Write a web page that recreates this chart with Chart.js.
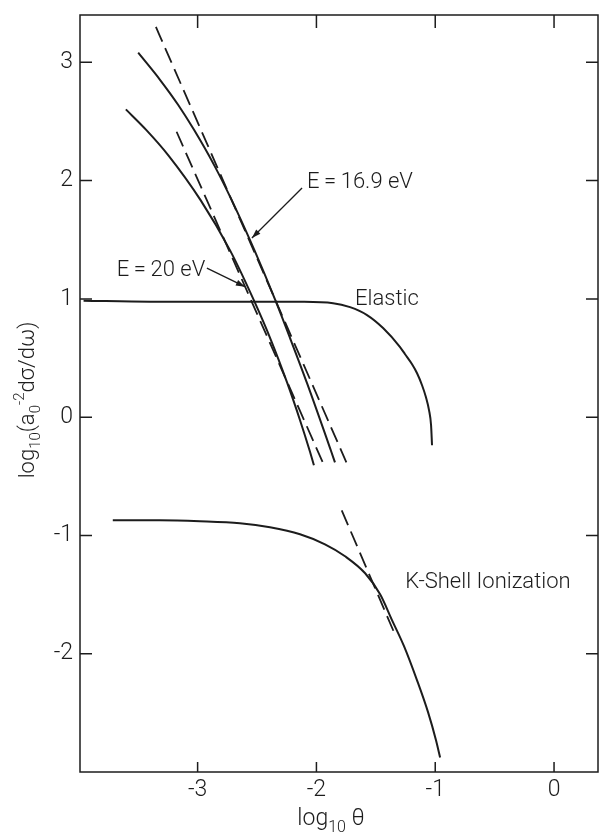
<!DOCTYPE html>
<html>
<head>
<meta charset="utf-8">
<script src="https://cdn.jsdelivr.net/npm/chart.js@4.4.1/dist/chart.umd.min.js"></script>
<style>
  html, body { margin: 0; padding: 0; background: #ffffff; }
  #wrap { width: 599px; height: 838px; }
</style>
</head>
<body>
<div id="wrap"><canvas id="chart" width="599" height="838"></canvas></div>
<script>
// Differential cross sections vs. scattering angle (log10 scales)

// Elastic scattering
const elasticX = [-3.96, -3.40, -2.90, -2.40, -2.14, -1.86, -1.717, -1.574, -1.439, -1.296, -1.254, -1.195, -1.153, -1.111, -1.078, -1.052, -1.035, -1.027];
const elasticY = [0.985, 0.976, 0.976, 0.976, 0.975, 0.964, 0.930, 0.863, 0.753, 0.592, 0.532, 0.447, 0.371, 0.270, 0.168, 0.058, -0.069, -0.238];

// K-shell ionization
const kshellX = [-3.714, -3.318, -2.981, -2.644, -2.391, -2.138, -1.928, -1.759, -1.590, -1.464, -1.363, -1.262, -1.153, -1.060, -0.993, -0.959];
const kshellY = [-0.872, -0.872, -0.880, -0.897, -0.931, -0.990, -1.075, -1.176, -1.320, -1.498, -1.718, -1.938, -2.225, -2.496, -2.733, -2.877];
// asymptote of the K-shell curve
const kshellAsymX = [-1.787, -1.339];
const kshellAsymY = [-0.788, -1.837];

// E = 16.9 eV
const e169X = [-3.500, -3.315, -3.163, -3.029, -2.861, -2.713, -2.522, -2.346, -2.215, -2.079, -1.879, -1.844];
const e169Y = [3.081, 2.850, 2.639, 2.427, 2.131, 1.835, 1.412, 0.989, 0.650, 0.287, -0.280, -0.382];
const e169AsymX = [-3.351, -1.748];
const e169AsymY = [3.299, -0.382];

// E = 20 eV
const e20X = [-3.604, -3.431, -3.248, -2.975, -2.728, -2.527, -2.382, -2.245, -2.138, -2.058, -2.021];
const e20Y = [2.602, 2.427, 2.216, 1.835, 1.412, 0.989, 0.650, 0.287, -0.026, -0.280, -0.407];
const e20AsymX = [-3.177, -1.936];
const e20AsymY = [2.413, -0.407];

// axis ticks
const xTickValues = [-3, -2, -1, 0];
const yTickValues = [-2, -1, 0, 1, 2, 3];

const INK = '#1c1c1c';
const FONT = 'Roboto, "Liberation Sans", sans-serif';

function pts(xs, ys) { return xs.map((x, i) => ({ x: x, y: ys[i] })); }

function curve(xs, ys, dashed) {
  return {
    data: pts(xs, ys),
    borderColor: INK,
    borderWidth: dashed ? 1.8 : 2,
    borderDash: dashed ? [16, 7] : [],
    pointRadius: 0,
    fill: false,
    cubicInterpolationMode: 'monotone',
    clip: false
  };
}

// text annotations in data coordinates
const notes = [
  { text: 'Elastic', x: -1.675, y: 0.997, size: 22 },
  { text: 'K-Shell Ionization', x: -1.253, y: -1.395, size: 22 },
  { text: 'E\u2009=\u200916.9 eV', x: -2.079, y: 1.983, size: 22 },
  { text: 'E\u2009=\u200920 eV', x: -3.680, y: 1.243, size: 22 }
];
const arrows = [
  { from: [-2.121, 1.937], to: [-2.543, 1.514] },
  { from: [-2.922, 1.260], to: [-2.602, 1.103] }
];

const decor = {
  id: 'decor',
  afterDraw(chart) {
    const ctx = chart.ctx;
    const a = chart.chartArea;
    const xs = chart.scales.x, ys = chart.scales.y;
    ctx.save();
    ctx.strokeStyle = INK;
    ctx.fillStyle = INK;
    ctx.lineWidth = 1.5;
    ctx.strokeRect(a.left, a.top, a.right - a.left, a.bottom - a.top);

    // inward tick marks on all four sides
    ctx.beginPath();
    xTickValues.forEach(v => {
      const px = xs.getPixelForValue(v);
      ctx.moveTo(px, a.bottom); ctx.lineTo(px, a.bottom - 10);
      ctx.moveTo(px, a.top); ctx.lineTo(px, a.top + 13);
    });
    yTickValues.forEach(v => {
      const py = ys.getPixelForValue(v);
      ctx.moveTo(a.left, py); ctx.lineTo(a.left + 12, py);
      ctx.moveTo(a.right, py); ctx.lineTo(a.right - 12, py);
    });
    ctx.stroke();

    // curve labels
    ctx.textBaseline = 'middle';
    ctx.textAlign = 'left';
    notes.forEach(n => {
      ctx.font = '300 ' + n.size + 'px ' + FONT;
      ctx.fillText(n.text, xs.getPixelForValue(n.x), ys.getPixelForValue(n.y));
    });

    // pointer arrows
    ctx.lineWidth = 1.3;
    arrows.forEach(ar => {
      const x0 = xs.getPixelForValue(ar.from[0]), y0 = ys.getPixelForValue(ar.from[1]);
      const x1 = xs.getPixelForValue(ar.to[0]), y1 = ys.getPixelForValue(ar.to[1]);
      ctx.beginPath(); ctx.moveTo(x0, y0); ctx.lineTo(x1, y1); ctx.stroke();
      const ang = Math.atan2(y1 - y0, x1 - x0);
      const L = 9, W = 3;
      ctx.beginPath();
      ctx.moveTo(x1, y1);
      ctx.lineTo(x1 - L * Math.cos(ang) + W * Math.sin(ang), y1 - L * Math.sin(ang) - W * Math.cos(ang));
      ctx.lineTo(x1 - L * Math.cos(ang) - W * Math.sin(ang), y1 - L * Math.sin(ang) + W * Math.cos(ang));
      ctx.closePath(); ctx.fill();
    });

    // axis titles with sub/superscripts
    function runs(parts, x, y, align) {
      let w = 0;
      parts.forEach(p => { ctx.font = '300 ' + p.s + 'px ' + FONT; w += ctx.measureText(p.t).width; });
      let cx = align === 'center' ? x - w / 2 : x;
      parts.forEach(p => {
        ctx.font = '300 ' + p.s + 'px ' + FONT;
        ctx.fillText(p.t, cx, y + (p.dy || 0));
        cx += ctx.measureText(p.t).width;
      });
    }
    ctx.textBaseline = 'alphabetic';
    ctx.textAlign = 'left';
    runs([
      { t: 'log', s: 23 },
      { t: '10', s: 16, dy: 7 },
      { t: ' \u03B8', s: 23 }
    ], 331, 825, 'center');

    ctx.save();
    ctx.translate(34, 400);
    ctx.rotate(-Math.PI / 2);
    runs([
      { t: 'log', s: 22 },
      { t: '10', s: 15, dy: 6 },
      { t: '(a', s: 22 },
      { t: '0', s: 15, dy: 6 },
      { t: '-2', s: 15, dy: -10 },
      { t: 'd\u03C3/d\u03C9)', s: 22 }
    ], 0, 0, 'center');
    ctx.restore();

    ctx.restore();
  }
};

new Chart(document.getElementById('chart'), {
  type: 'line',
  data: {
    datasets: [
      curve(elasticX, elasticY, false),
      curve(kshellX, kshellY, false),
      curve(kshellAsymX, kshellAsymY, true),
      curve(e169X, e169Y, false),
      curve(e169AsymX, e169AsymY, true),
      curve(e20X, e20Y, false),
      curve(e20AsymX, e20AsymY, true)
    ]
  },
  options: {
    responsive: false,
    animation: false,
    devicePixelRatio: 1,
    layout: { padding: { top: 15, right: 1, left: 0, bottom: 0 } },
    plugins: { legend: { display: false }, tooltip: { enabled: false } },
    scales: {
      x: {
        type: 'linear',
        min: -3.99, max: 0.37,
        afterBuildTicks: s => { s.ticks = xTickValues.map(v => ({ value: v })); },
        afterFit: s => { s.height = 66; s.paddingLeft = 0; s.paddingRight = 0; },
        grid: { display: false, drawTicks: false },
        border: { display: false },
        ticks: { color: INK, padding: 4, font: { family: FONT, size: 23, weight: 300 } }
      },
      y: {
        type: 'linear',
        min: -3.0, max: 3.40,
        afterBuildTicks: s => { s.ticks = yTickValues.map(v => ({ value: v })); },
        afterFit: s => { s.width = 80; s.paddingTop = 0; s.paddingBottom = 0; },
        grid: { display: false, drawTicks: false },
        border: { display: false },
        ticks: { color: INK, padding: 7, font: { family: FONT, size: 23, weight: 300 } }
      }
    }
  },
  plugins: [decor]
});
</script>
</body>
</html>
